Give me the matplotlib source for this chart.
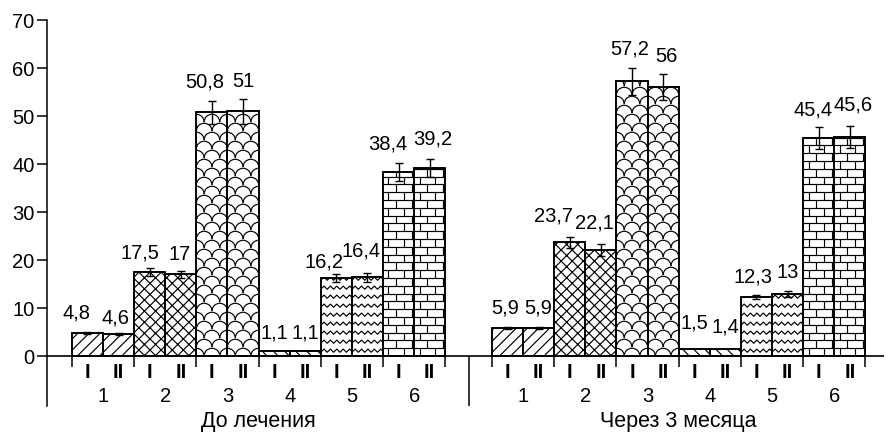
import numpy as np
import matplotlib.pyplot as plt
from matplotlib.patches import Arc

plt.rcParams['font.family'] = ['Liberation Sans', 'DejaVu Sans']
plt.rcParams['hatch.linewidth'] = 0.85

groups = ['До лечения', 'Через 3 месяца']
categories = ['1', '2', '3', '4', '5', '6']
subgroups = ['I', 'II']

before = [4.8, 4.6, 17.5, 17, 50.8, 51, 1.1, 1.1, 16.2, 16.4, 38.4, 39.2]
before_err = [0.2, 0.15, 0.8, 0.8, 2.4, 2.6, 0, 0, 0.8, 0.9, 1.9, 1.9]
after = [5.9, 5.9, 23.7, 22.1, 57.2, 56, 1.5, 1.4, 12.3, 13, 45.4, 45.6]
after_err = [0.2, 0.2, 1.2, 1.2, 2.9, 2.7, 0, 0, 0.5, 0.6, 2.3, 2.3]

patterns = ['///', 'xxx', 'scales', '\\\\\\', 'waves', 'bricks']

# hand placement of value labels (px) as in the original figure
shift_before = [(-11, 10), (-3, 6), (-10, 6), (-1, 7), (-7, 9), (0, 8),
                (0, 8), (0, 8), (-12, 2.5), (-6, 13), (-11, 9), (3, 10)]
shift_after = [(-2, 9), (0, 9), (-16, 11.5), (-6, 12), (-2, 9), (3, 8),
               (0, 16), (0, 12.5), (-3, 8), (0, 9), (-6, 8), (3, 12)]

W, H = 886, 433
fig = plt.figure(figsize=(W / 100, H / 100), dpi=100)
ax = fig.add_axes([47 / W, 27 / H, (884 - 47) / W, (406 - 20) / H])
xmin, xmax = -0.8, 26.1
ymin, ymax = -10.4, 70
ax.set_xlim(xmin, xmax)
ax.set_ylim(ymin, ymax)
sx = (884 - 47) / (xmax - xmin)   # px per x unit
sy = (406 - 20) / (ymax - ymin)   # px per y unit
PT = 0.72  # points per px at 100 dpi


def draw_scales(bar, x0, w, h):
    r = 7.8
    dy = 9.0 / sy
    j = 0
    while j * dy < h + dy:
        off = 0 if j % 2 == 0 else r / sx
        cx = x0 - off
        while cx < x0 + w + 2 * r / sx:
            a = Arc((cx, j * dy), 2 * r / sx, 2 * r / sy, theta1=0, theta2=180,
                    lw=0.85, color='black', zorder=2.2)
            ax.add_patch(a)
            a.set_clip_path(bar)
            cx += 2 * r / sx
        j += 1


def draw_waves(bar, x0, w, h):
    half = 3.2 / sx
    amp = 1.6 / sy
    dy = 9.0 / sy
    n = int(w / half) + 2
    xs = x0 + np.arange(n) * half
    zig = np.where(np.arange(n) % 2 == 0, -amp, amp)
    y = dy * 0.6
    while y < h:
        ln, = ax.plot(xs, y + zig, color='black', lw=0.85, zorder=2.2)
        ln.set_clip_path(bar)
        y += dy


def draw_bricks(bar, x0, w, h):
    dy = 7.8 / sy
    bw = 15.5 / sx
    k = 0
    while k * dy < h:
        y0 = k * dy
        ln = ax.hlines(y0, x0, x0 + w, color='black', lw=0.85, zorder=2.2)
        ln.set_clip_path(bar)
        off = 0.35 * bw if k % 2 == 0 else 0.85 * bw
        xs = x0 + off + np.arange(0, 4) * bw
        xs = xs[xs < x0 + w]
        vl = ax.vlines(xs, y0, min(y0 + dy, h), color='black', lw=0.85, zorder=2.2)
        vl.set_clip_path(bar)
        k += 1


def fmt(v):
    return f'{v:g}'.replace('.', ',')


starts = [0, 13.5]
data = [(before, before_err, shift_before), (after, after_err, shift_after)]
for g, (vals, errs, shifts) in enumerate(data):
    x = starts[g] + np.arange(len(vals))
    for i, (v, e) in enumerate(zip(vals, errs)):
        pat = patterns[i // 2]
        hatch = pat if pat not in ('scales', 'waves', 'bricks') else None
        bar = ax.bar(x[i], v, width=1, align='edge', facecolor='white',
                     edgecolor='black', lw=1.2, hatch=hatch, zorder=2)[0]
        if pat == 'scales':
            draw_scales(bar, x[i], 1, v)
        elif pat == 'waves':
            draw_waves(bar, x[i], 1, v)
        elif pat == 'bricks':
            draw_bricks(bar, x[i], 1, v)
        ax.bar(x[i], v, width=1, align='edge', fill=False,
               edgecolor='black', lw=1.2, zorder=3)
        if e > 0:
            ax.errorbar(x[i] + 0.5, v, yerr=e, fmt='none', ecolor='black',
                        elinewidth=1.0, capsize=3, capthick=1.0, zorder=4)
        dx, dy = shifts[i]
        ax.annotate(fmt(v), (x[i] + 0.5, v + e), xytext=(dx * PT, dy * PT),
                    textcoords='offset points', ha='center', va='bottom',
                    fontsize=14.5)
        ax.text(x[i] + 0.5, -3.5, subgroups[i % 2], ha='center', va='center',
                fontsize=14.5, fontweight='bold')
    bounds = starts[g] + np.arange(0, 13, 2)
    ax.vlines(bounds, -2.3, 0, color='black', lw=1.1)
    for k, c in enumerate(categories):
        ax.text(starts[g] + 2 * k + 1, -8.5, c, ha='center', va='center',
                fontsize=14.5)
    ax.text(starts[g] + 6, -13.7, groups[g], ha='center', va='center',
            fontsize=15.5, clip_on=False)

ax.axhline(0, color='black', lw=1.2, zorder=5)
ax.vlines(12.75, ymin, 0, color='black', lw=1.1)

ax.set_yticks(np.arange(0, 71, 10))
ax.set_xticks([])
ax.tick_params(axis='y', length=7, width=1.1, labelsize=14.5, pad=2)
for s in ['top', 'right', 'bottom']:
    ax.spines[s].set_visible(False)
ax.spines['left'].set_linewidth(1.1)

fig.savefig('out.png', dpi=100)
